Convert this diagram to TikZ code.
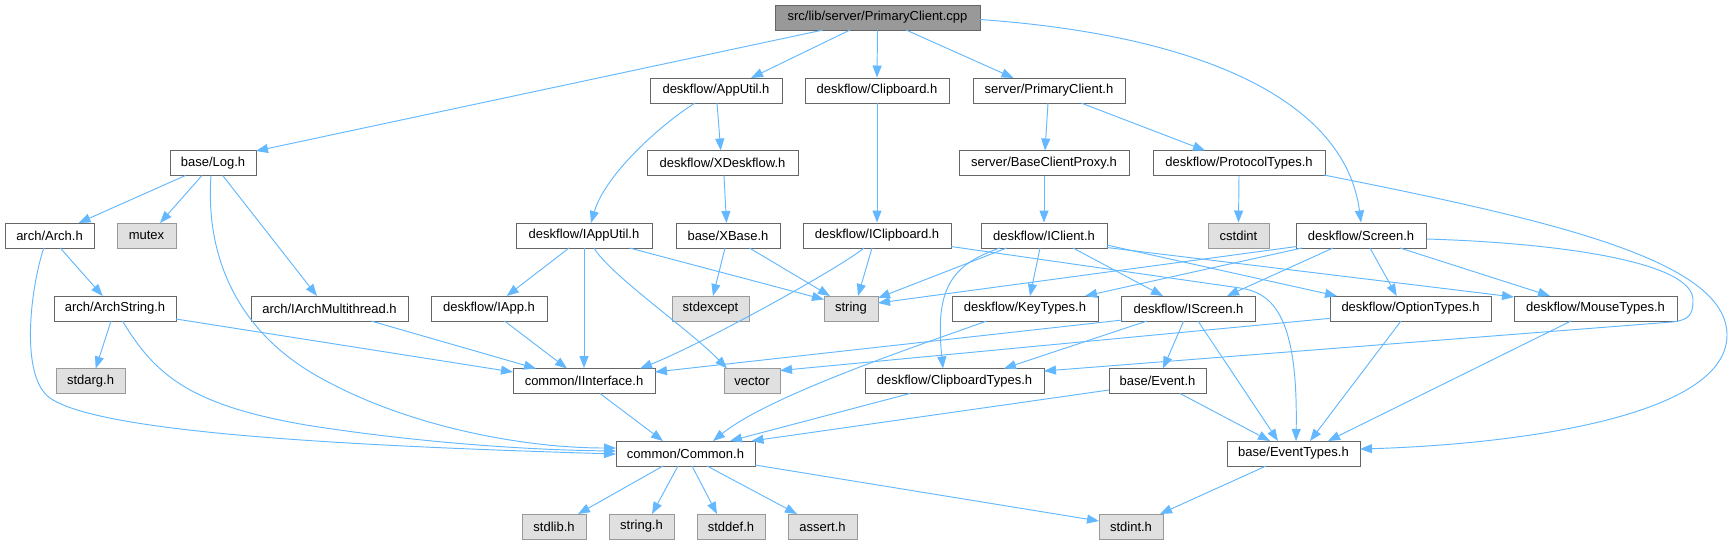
\documentclass[tikz,border=0pt]{standalone}
\usepackage{fontspec}
\setmainfont{Liberation Sans}
\usetikzlibrary{arrows.meta,calc}
\definecolor{edgeblue}{HTML}{63B8FF}
\definecolor{boxborder}{HTML}{666666}
\definecolor{sysborder}{HTML}{999999}
\definecolor{sysfill}{HTML}{E0E0E0}
\definecolor{mainfill}{HTML}{999999}
\tikzset{
  box/.style={draw=boxborder, fill=white, line width=0.95pt, minimum height=25pt, inner sep=0pt, font=\fontsize{13}{15}\selectfont},
  sys/.style={box, draw=sysborder, fill=sysfill},
  mainbox/.style={box, draw=boxborder, fill=mainfill},
  dep/.style={draw=edgeblue, line width=0.95pt, -{Triangle[length=12pt,width=9pt]}}
}
\begin{document}
\begin{tikzpicture}[x=1pt,y=-1pt]
\useasboundingbox (0,0) rectangle (1734,544);
% nodes
\node[mainbox, minimum width=205pt] (cpp) at (877.5,17.5) {src/lib/server/PrimaryClient.cpp};
\node[box, minimum width=132pt] (appu) at (716,90.5) {deskflow/AppUtil.h};
\node[box, minimum width=144pt] (clip) at (877,90.5) {deskflow/Clipboard.h};
\node[box, minimum width=152pt] (spc) at (1049,90.5) {server/PrimaryClient.h};
\node[box, minimum width=86pt] (log) at (213,163) {base/Log.h};
\node[box, minimum width=151pt] (xdf) at (722.5,163) {deskflow/XDeskflow.h};
\node[box, minimum width=170pt] (bcp) at (1044,163) {server/BaseClientProxy.h};
\node[box, minimum width=172pt] (prot) at (1239,163) {deskflow/ProtocolTypes.h};
\node[box, minimum width=89pt] (arch) at (49.5,235.5) {arch/Arch.h};
\node[sys, minimum width=59pt] (mutex) at (146.5,235.5) {mutex};
\node[box, minimum width=136pt] (iapputil) at (584,235.5) {deskflow/IAppUtil.h};
\node[box, minimum width=104pt] (xbase) at (728,235.5) {base/XBase.h};
\node[box, minimum width=148pt] (iclip) at (877,235.5) {deskflow/IClipboard.h};
\node[box, minimum width=126pt] (iclient) at (1044,235.5) {deskflow/IClient.h};
\node[sys, minimum width=61pt] (cstdint) at (1238.5,235.5) {cstdint};
\node[box, minimum width=130pt] (screen) at (1361,235.5) {deskflow/Screen.h};
\node[box, minimum width=122pt] (archstr) at (115,308.5) {arch/ArchString.h};
\node[box, minimum width=157pt] (iamt) at (329.5,308.5) {arch/IArchMultithread.h};
\node[box, minimum width=116pt] (iapp) at (489,308.5) {deskflow/IApp.h};
\node[sys, minimum width=77pt] (stdexcept) at (710.5,308.5) {stdexcept};
\node[sys, minimum width=54pt] (string) at (851,308.5) {string};
\node[box, minimum width=146pt] (keyt) at (1025,308.5) {deskflow/KeyTypes.h};
\node[box, minimum width=134pt] (iscreen) at (1188.5,308.5) {deskflow/IScreen.h};
\node[box, minimum width=161pt] (optt) at (1410.5,308.5) {deskflow/OptionTypes.h};
\node[box, minimum width=163pt] (mouset) at (1595.5,308.5) {deskflow/MouseTypes.h};
\node[sys, minimum width=69pt] (stdarg) at (90.5,381) {stdarg.h};
\node[box, minimum width=142pt] (iiface) at (584,381) {common/IInterface.h};
\node[sys, minimum width=56pt] (vector) at (752,381) {vector};
\node[box, minimum width=179pt] (clipt) at (954.5,381) {deskflow/ClipboardTypes.h};
\node[box, minimum width=97pt] (event) at (1157.5,381) {base/Event.h};
\node[box, minimum width=139pt] (common) at (685.5,453.5) {common/Common.h};
\node[box, minimum width=133pt] (evtypes) at (1293.5,453.5) {base/EventTypes.h};
\node[sys, minimum width=64pt] (stdlib) at (554,526.5) {stdlib.h};
\node[sys, minimum width=65pt] (stringh) at (641.5,526.5) {string.h};
\node[sys, minimum width=68pt] (stddef) at (731,526.5) {stddef.h};
\node[sys, minimum width=69pt] (assert) at (822.5,526.5) {assert.h};
\node[sys, minimum width=64pt] (stdint) at (1131,526.5) {stdint.h};
% edges from cpp
\draw[dep] ($(cpp)+(-54.5,12.5)$) -- ($(log)+(43,-12)$);
\draw[dep] ($(cpp)+(-27.5,12.5)$) -- ($(appu)+(35,-12.5)$);
\draw[dep] (cpp.south) -- (clip.north);
\draw[dep] ($(cpp)+(28.5,12.5)$) -- ($(spc)+(-35.5,-12.5)$);
\draw[dep] ($(cpp)+(102.5,2)$) .. controls (1200,35) and (1345,100) .. (screen.north);
% Log
\draw[dep] ($(log)+(-27.5,12.5)$) -- ($(arch)+(29,-12.5)$);
\draw[dep] ($(log)+(-11,12.5)$) -- ($(mutex)+(13.5,-12.5)$);
\draw[dep] ($(log)+(-2,12.5)$) .. controls (205,260) and (240,330) .. (312,373) .. controls (400,425) and (520,448) .. ($(common)+(-69.5,-5.5)$);
\draw[dep] ($(log)+(9.7,12.5)$) -- ($(iamt)+(-12.5,-12.5)$);
% Arch
\draw[dep] ($(arch)+(10.8,12.5)$) -- ($(archstr)+(-12.3,-12.5)$);
\draw[dep] ($(arch)+(-5.75,12.5)$) .. controls (30,290) and (20,377) .. (50,398) .. controls (100,433) and (350,446) .. ($(common)+(-69.5,0.5)$);
% ArchString
\draw[dep] ($(archstr)+(-4,12.5)$) -- ($(stdarg)+(5.2,-12.5)$);
\draw[dep] ($(archstr)+(61,10.5)$) -- ($(iiface)+(-71,-9)$);
\draw[dep] ($(archstr)+(7.5,12.5)$) .. controls (155,375) and (190,405) .. (306,425) .. controls (420,443) and (530,450) .. ($(common)+(-69.5,-2.5)$);
% IArchMultithread
\draw[dep] ($(iamt)+(41.5,12.5)$) -- ($(iiface)+(-48,-12.5)$);
% AppUtil
\draw[dep] ($(appu)+(-21,12.5)$) .. controls (660,125) and (605,175) .. ($(iapputil)+(7,-12.5)$);
\draw[dep] ($(appu)+(1,12.5)$) -- ($(xdf)+(-1.8,-12.5)$);
\draw[dep] ($(xdf)+(1.5,12.5)$) -- ($(xbase)+(-1.5,-12.5)$);
\draw[dep] ($(xbase)+(-3,12.5)$) -- ($(stdexcept)+(2.5,-12.5)$);
\draw[dep] ($(xbase)+(21.4,12.5)$) -- ($(string)+(-21,-12.5)$);
% IAppUtil
\draw[dep] ($(iapputil)+(-15,12.5)$) -- ($(iapp)+(17.7,-12.5)$);
\draw[dep] (iapputil.south) -- (iiface.north);
\draw[dep] ($(iapputil)+(10,12.5)$) .. controls (610,275) and (690,330) .. ($(vector)+(-25,-12.5)$);
\draw[dep] ($(iapputil)+(45.5,12.5)$) -- ($(string)+(-27,-9)$);
\draw[dep] ($(iapp)+(15.5,12.5)$) -- ($(iiface)+(-17,-12.5)$);
\draw[dep] ($(iiface)+(16,12.5)$) -- ($(common)+(-22.5,-12.5)$);
% Clipboard
\draw[dep] (clip.south) -- (iclip.north);
\draw[dep] ($(iclip)+(-13,12.5)$) .. controls (840,268) and (700,345) .. ($(iiface)+(56,-12.5)$);
\draw[dep] ($(iclip)+(-5,12.5)$) -- ($(string)+(7,-12.5)$);
\draw[dep] ($(iclip)+(74,11)$) -- (1240,288) .. controls (1275,293) and (1298,320) .. ($(evtypes)+(2.5,-12.5)$);
% server
\draw[dep] ($(spc)+(-1,12.5)$) -- ($(bcp)+(1,-12.5)$);
\draw[dep] ($(spc)+(32,12.5)$) -- ($(prot)+(-34,-12.5)$);
\draw[dep] (bcp.south) -- (iclient.north);
\draw[dep] (prot.south) -- (cstdint.north);
\draw[dep] ($(prot)+(85,12)$) .. controls (1550,220) and (1727,260) .. (1727,335) .. controls (1727,420) and (1500,445) .. ($(evtypes)+(66.5,-4.5)$);
% IClient
\draw[dep] ($(iclient)+(-37.3,12.5)$) -- ($(string)+(27,-10.5)$);
\draw[dep] ($(iclient)+(-4,12.5)$) -- ($(keyt)+(5,-12.5)$);
\draw[dep] ($(iclient)+(29,12.5)$) -- ($(iscreen)+(-25.5,-12.5)$);
\draw[dep] ($(iclient)+(-44,12.5)$) .. controls (950,265) and (935,290) .. ($(clipt)+(-11.5,-12.5)$);
\draw[dep] ($(iclient)+(62.7,9.5)$) -- ($(optt)+(-73.5,-12.5)$);
\draw[dep] ($(iclient)+(62.7,12)$) -- ($(mouset)+(-81.5,-11.5)$);
% Screen
\draw[dep] ($(screen)+(-64.3,11)$) -- ($(string)+(27,-5.5)$);
\draw[dep] ($(screen)+(-59,12.5)$) -- ($(keyt)+(60,-12.5)$);
\draw[dep] ($(screen)+(-28,12.5)$) -- ($(iscreen)+(38.5,-12.5)$);
\draw[dep] ($(screen)+(9,12.5)$) -- ($(optt)+(-13.8,-12.5)$);
\draw[dep] ($(screen)+(39,12.5)$) -- ($(mouset)+(-45.5,-12.5)$);
\draw[dep] ($(screen)+(65.5,3.5)$) .. controls (1560,243) and (1693,262) .. (1693,300) .. controls (1693,316) and (1688,320) .. (1672,322) -- ($(clipt)+(89.5,-10)$);
% IScreen
\draw[dep] ($(iscreen)+(-66,11.5)$) -- ($(iiface)+(71,-9)$);
\draw[dep] ($(iscreen)+(-41.5,12.5)$) -- ($(clipt)+(49.5,-12.5)$);
\draw[dep] ($(iscreen)+(-4.8,12.5)$) -- ($(event)+(5.5,-12.5)$);
\draw[dep] ($(iscreen)+(9.5,12.5)$) -- ($(evtypes)+(-15.5,-12.5)$);
% OptionTypes, MouseTypes
\draw[dep] ($(optt)+(-80,9.8)$) -- ($(vector)+(28,-10.5)$);
\draw[dep] ($(optt)+(-9.5,12.5)$) -- ($(evtypes)+(16.5,-12.5)$);
\draw[dep] ($(mouset)+(-24.5,12.5)$) -- ($(evtypes)+(34.5,-12.5)$);
% KeyTypes, ClipboardTypes, Event
\draw[dep] ($(keyt)+(-38.3,12.5)$) .. controls (920,345) and (770,395) .. ($(common)+(27.5,-12.5)$);
\draw[dep] ($(clipt)+(-44.5,12.5)$) -- ($(common)+(44.5,-12.5)$);
\draw[dep] ($(event)+(-48.5,9)$) -- ($(common)+(66,-12.5)$);
\draw[dep] ($(event)+(22.5,12.5)$) -- ($(evtypes)+(-23.5,-12.5)$);
\draw[dep] ($(evtypes)+(-27.5,12.5)$) -- ($(stdint)+(29,-12.5)$);
% Common
\draw[dep] ($(common)+(-22.5,12.5)$) -- ($(stdlib)+(24,-12.5)$);
\draw[dep] ($(common)+(-7.5,12.5)$) -- ($(stringh)+(10.5,-12.5)$);
\draw[dep] ($(common)+(6.5,12.5)$) -- ($(stddef)+(-14,-12.5)$);
\draw[dep] ($(common)+(21.5,12.5)$) -- ($(assert)+(-25.5,-12.5)$);
\draw[dep] ($(common)+(69.5,11.5)$) -- ($(stdint)+(-32,-5.5)$);
\end{tikzpicture}
\end{document}
